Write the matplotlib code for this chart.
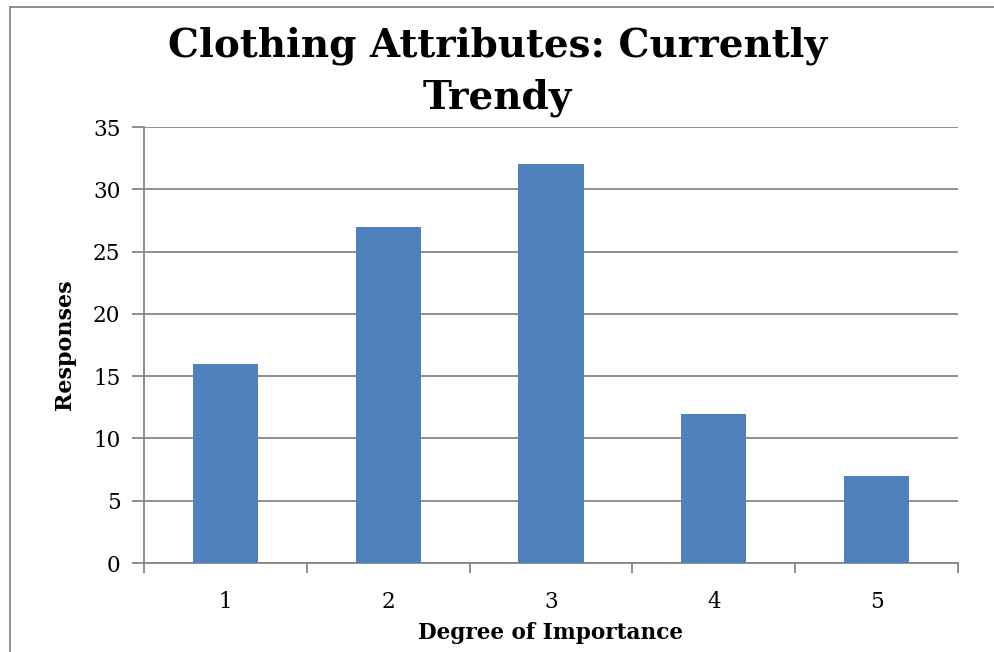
#!/usr/bin/env python
"""
Bar chart of how important "currently trendy" is as a clothing attribute.
"""
import matplotlib
matplotlib.use('Agg')
import matplotlib.pyplot as plt
from matplotlib.lines import Line2D

degrees = ['1', '2', '3', '4', '5']
responses = [16, 27, 32, 12, 7]
y_ticks = [0, 5, 10, 15, 20, 25, 30, 35]

BAR_COLOR = '#4F81BD'
GRID_COLOR = '#868686'
SERIF = ['DejaVu Serif']


def main():
    width, height = 995, 652
    fig = plt.figure(figsize=(width / 100, height / 100), dpi=100)
    ax = fig.add_axes([144 / width, 1 - 563 / height,
                       (958 - 144) / width, (563 - 127) / height])

    positions = list(range(len(degrees)))
    ax.bar(positions, responses, width=0.4, color=BAR_COLOR, zorder=3)

    ax.set_xlim(-0.5, len(degrees) - 0.5)
    ax.set_ylim(y_ticks[0], y_ticks[-1])
    ax.set_yticks(y_ticks)
    ax.set_xticks(positions)
    ax.set_xticklabels(degrees)
    ax.set_xticks([p - 0.5 for p in positions] + [len(degrees) - 0.5],
                  minor=True)
    ax.tick_params(axis='x', which='major', length=0, pad=20)
    ax.tick_params(axis='x', which='minor', length=7, color=GRID_COLOR,
                   width=1.3)
    ax.tick_params(axis='y', length=9, color=GRID_COLOR, width=1.3, pad=8)
    for label in ax.get_xticklabels() + ax.get_yticklabels():
        label.set_fontfamily(SERIF)
        label.set_fontsize(15.5)

    ax.grid(axis='y', color=GRID_COLOR, linewidth=1.3, zorder=0)
    for side in ('top', 'right'):
        ax.spines[side].set_visible(False)
    for side in ('left', 'bottom'):
        ax.spines[side].set_color(GRID_COLOR)
        ax.spines[side].set_linewidth(1.3)

    ax.set_ylabel('Responses', family=SERIF, fontsize=16,
                  fontweight='bold', labelpad=12)
    ax.set_xlabel('Degree of Importance', family=SERIF, fontsize=15.6,
                  fontweight='bold', labelpad=7)

    fig.text(0.5, 1 - 72 / height, 'Clothing Attributes: Currently\nTrendy',
             ha='center', va='center', family=SERIF, fontsize=28,
             fontweight='bold', linespacing=1.45)

    # chart-area border (cropped on the right and bottom in the original)
    fig.add_artist(Line2D([10.5 / width, 10.5 / width],
                          [0, 1 - 7 / height], color=GRID_COLOR,
                          linewidth=1.3, transform=fig.transFigure))
    fig.add_artist(Line2D([10.5 / width, 1], [1 - 7 / height, 1 - 7 / height],
                          color=GRID_COLOR, linewidth=1.3,
                          transform=fig.transFigure))

    fig.savefig('out.png', dpi=100, facecolor='white')


if __name__ == '__main__':
    main()
